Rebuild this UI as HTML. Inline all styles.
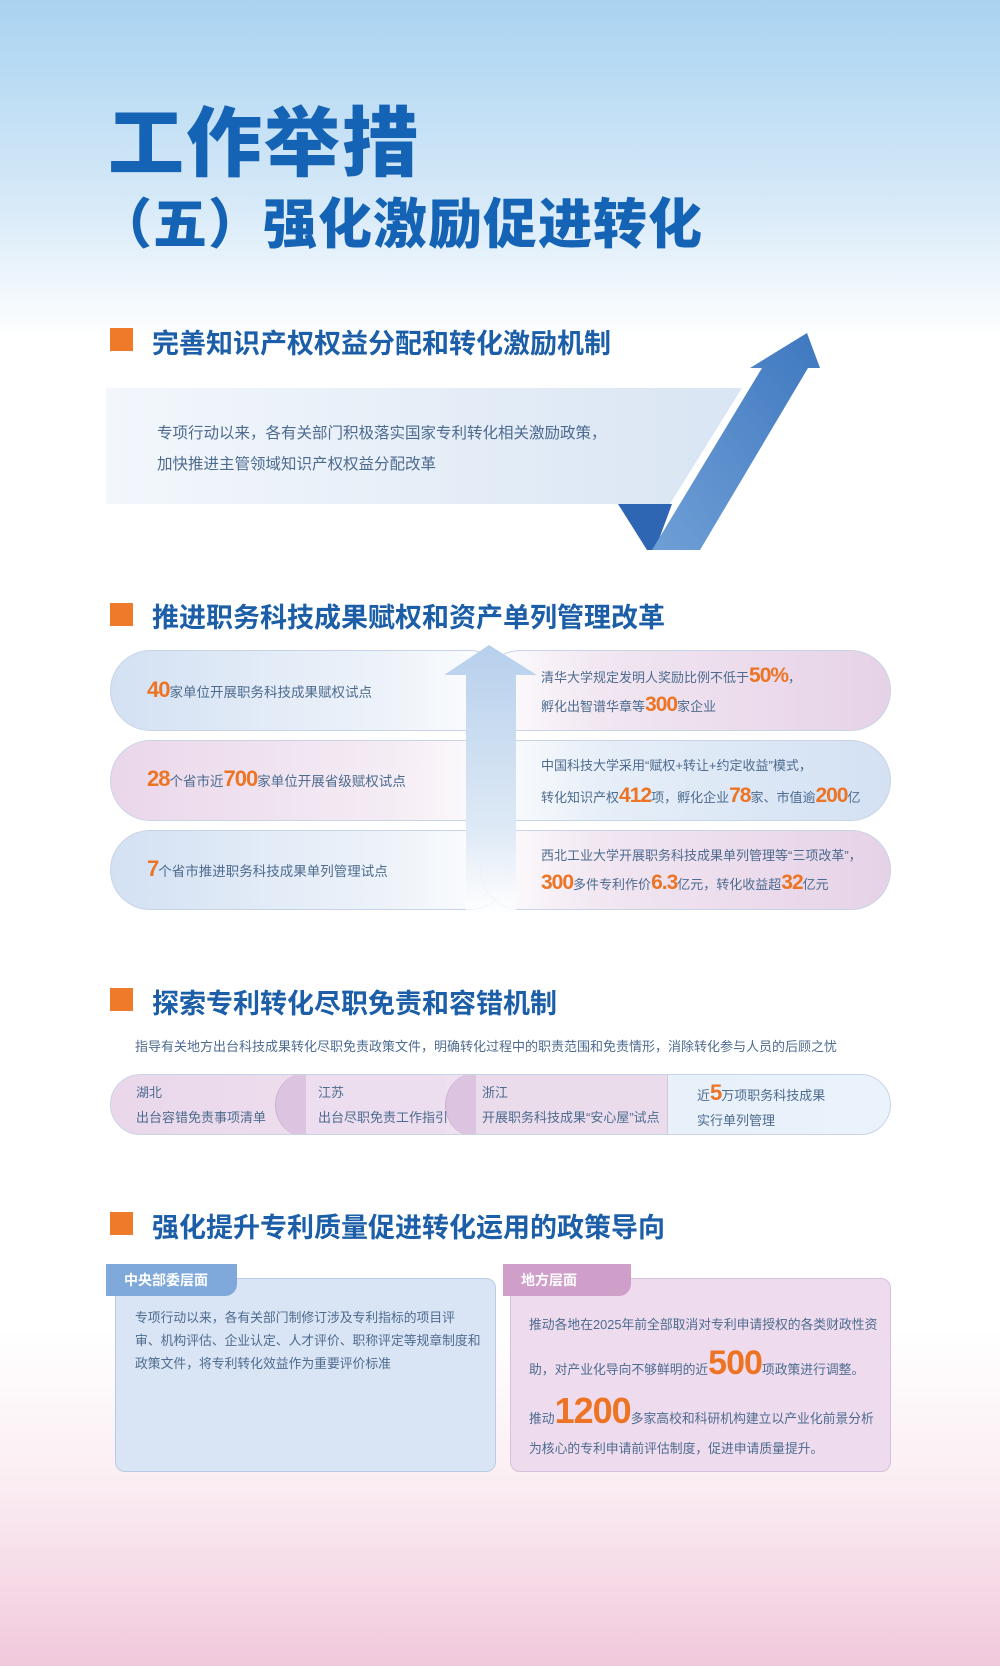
<!DOCTYPE html>
<html><head><meta charset="utf-8">
<style>
*{margin:0;padding:0;box-sizing:border-box}
body{width:1000px;height:1666px;position:relative;overflow:hidden;font-family:"Liberation Sans","Noto Sans CJK SC",sans-serif;
background:linear-gradient(180deg,#a9d3f1 0px,#d6e9f8 200px,#ffffff 340px,#ffffff 1330px,#fbeef3 1480px,#f1c9dc 1666px);}
.a{position:absolute;white-space:nowrap}
.h1{left:108px;top:82px;font-size:76px;font-weight:900;color:#1563b5;letter-spacing:2px}
.h2{left:98px;top:180px;font-size:54px;font-weight:900;color:#1563b5;letter-spacing:1px}
.sq{position:absolute;width:23px;height:23px;background:#ef7b2a}
.sh{position:absolute;font-size:27px;font-weight:700;color:#1c5fa8}
.o{color:#ec7424;font-weight:900;font-size:22px;letter-spacing:-1px}
.pill{position:absolute;border-radius:42px;border:1.5px solid #c9d3e6}
.pb{background:linear-gradient(90deg,#d3e1f3,#eef3fa 70%,rgba(255,255,255,0.6))}
.pp{background:linear-gradient(90deg,#ead7ea,#f4ecf4 70%,rgba(255,255,255,0.6))}
.pbR{background:linear-gradient(90deg,rgba(255,255,255,0.6),#e6eef8 30%,#d3e1f3)}
.ppR{background:linear-gradient(90deg,rgba(255,255,255,0.6),#f1e6f1 30%,#e6d2e7)}
.ptxt{position:absolute;font-size:13.5px;color:#4d6b8f;line-height:28px;white-space:nowrap}
.r .o{font-size:21px}
</style></head><body>
<div class="a h1">工作举措</div>
<div class="a h2">（五）强化激励促进转化</div>

<div class="sq" style="left:110px;top:328px"></div>
<div class="sh" style="left:152px;top:322px">完善知识产权权益分配和转化激励机制</div>

<svg class="a" style="left:0;top:0" width="1000" height="600">
<defs>
<linearGradient id="bd" x1="0" x2="1"><stop offset="0" stop-color="#f3f7fc"/><stop offset="1" stop-color="#d9e5f3"/></linearGradient>
<linearGradient id="ar" x1="0" y1="1" x2="1" y2="0"><stop offset="0" stop-color="#6f9fd6"/><stop offset="1" stop-color="#3f78c0"/></linearGradient>
</defs>
<polygon points="106,388 742,388 670,504 106,504" fill="url(#bd)"/>
<polygon points="618,504 672,504 655,550 647,550" fill="#2f66b3"/>
<polygon points="652,550 700,550 808,368 820,368 807,333 750,368 762,368" fill="url(#ar)"/>
</svg>
<div class="a" style="left:157px;top:418px;font-size:15.5px;color:#4d6b8f;line-height:31px">专项行动以来，各有关部门积极落实国家专利转化相关激励政策，<br>加快推进主管领域知识产权权益分配改革</div>

<div class="sq" style="left:110px;top:603px"></div>
<div class="sh" style="left:152px;top:596px">推进职务科技成果赋权和资产单列管理改革</div>

<div class="pill pb" style="left:110px;top:650px;width:400px;height:81px"></div>
<div class="pill pp" style="left:110px;top:740px;width:400px;height:81px"></div>
<div class="pill pb" style="left:110px;top:830px;width:400px;height:80px"></div>
<div class="pill ppR" style="left:480px;top:650px;width:411px;height:81px"></div>
<div class="pill pbR" style="left:480px;top:740px;width:411px;height:81px"></div>
<div class="pill ppR" style="left:480px;top:830px;width:411px;height:80px"></div>

<svg class="a" style="left:440px;top:640px" width="100" height="280">
<defs><linearGradient id="ua" x1="0" y1="0" x2="0" y2="1"><stop offset="0" stop-color="#b7d0ec"/><stop offset="0.7" stop-color="#dfeaf6"/><stop offset="1" stop-color="#ffffff" stop-opacity="0.8"/></linearGradient></defs>
<polygon points="49,5 97,35 76,35 76,275 26,275 26,35 4,35" fill="url(#ua)"/>
</svg>

<div class="ptxt" style="left:147px;top:676px"><span class="o">40</span>家单位开展职务科技成果赋权试点</div>
<div class="ptxt" style="left:147px;top:765px"><span class="o">28</span>个省市近<span class="o">700</span>家单位开展省级赋权试点</div>
<div class="ptxt" style="left:147px;top:855px"><span class="o">7</span>个省市推进职务科技成果单列管理试点</div>
<div class="ptxt r" style="left:541px;top:662px;line-height:27px;font-size:13px">清华大学规定发明人奖励比例不低于<span class="o">50%</span>，<br>孵化出智谱华章等<span class="o">300</span>家企业</div>
<div class="ptxt r" style="left:541px;top:751px;line-height:30px;font-size:13px">中国科技大学采用“赋权+转让+约定收益”模式，<br>转化知识产权<span class="o">412</span>项，孵化企业<span class="o">78</span>家、市值逾<span class="o">200</span>亿</div>
<div class="ptxt r" style="left:541px;top:842px;line-height:27px;font-size:13px">西北工业大学开展职务科技成果单列管理等“三项改革”，<br><span class="o">300</span>多件专利作价<span class="o">6.3</span>亿元，转化收益超<span class="o">32</span>亿元</div>

<div class="sq" style="left:110px;top:988px"></div>
<div class="sh" style="left:152px;top:982px">探索专利转化尽职免责和容错机制</div>
<div class="a" style="left:135px;top:1036px;font-size:13px;color:#4d6b8f">指导有关地方出台科技成果转化尽职免责政策文件，明确转化过程中的职责范围和免责情形，消除转化参与人员的后顾之忧</div>

<div class="pill" style="left:110px;top:1074px;width:781px;height:61px;border-radius:31px;background:linear-gradient(90deg,#ead8ea,#efe3f0 60%,#e8f0fa 72%,#eaf2fb);overflow:hidden">
  <div style="position:absolute;left:164px;top:-2px;width:60px;height:64px;border-radius:50%;background:#dcc3df;border-left:1.5px solid #c9b3d2"></div>
  <div style="position:absolute;left:195px;top:0;width:140px;height:61px;background:#ecdeee"></div>
  <div style="position:absolute;left:334px;top:-2px;width:60px;height:64px;border-radius:50%;background:#dcc3df;border-left:1.5px solid #c9b3d2"></div>
  <div style="position:absolute;left:365px;top:0;width:192px;height:61px;background:#ebdcec;border-right:1px solid #d5c6dc"></div>
</div>
<div class="ptxt" style="left:136px;top:1080px;line-height:25px;font-size:13px">湖北<br>出台容错免责事项清单</div>
<div class="ptxt" style="left:318px;top:1080px;line-height:25px;font-size:13px">江苏<br>出台尽职免责工作指引</div>
<div class="ptxt" style="left:482px;top:1080px;line-height:25px;font-size:13px">浙江<br>开展职务科技成果“安心屋”试点</div>
<div class="ptxt" style="left:697px;top:1080px;line-height:25px;font-size:13px">近<span class="o">5</span>万项职务科技成果<br>实行单列管理</div>

<div class="sq" style="left:110px;top:1212px"></div>
<div class="sh" style="left:152px;top:1206px">强化提升专利质量促进转化运用的政策导向</div>

<div class="a" style="left:115px;top:1278px;width:381px;height:194px;background:#d9e5f4;border:1.5px solid #b9cbe4;border-radius:10px"></div>
<div class="a" style="left:106px;top:1264px;width:131px;height:32px;background:#7fa9da;border-radius:0 0 12px 0;color:#fff;font-weight:700;font-size:14px;line-height:32px;padding-left:18px">中央部委层面</div>
<div class="a" style="left:135px;top:1306px;font-size:12.8px;color:#4d6b8f;line-height:23px">专项行动以来，各有关部门制修订涉及专利指标的项目评<br>审、机构评估、企业认定、人才评价、职称评定等规章制度和<br>政策文件，将专利转化效益作为重要评价标准</div>

<div class="a" style="left:510px;top:1278px;width:381px;height:194px;background:#eedcee;border:1.5px solid #d6c0dc;border-radius:10px"></div>
<div class="a" style="left:503px;top:1264px;width:128px;height:32px;background:#cf9fca;border-radius:0 0 12px 0;color:#fff;font-weight:700;font-size:14px;line-height:32px;padding-left:18px">地方层面</div>
<div class="a" style="left:529px;top:1306px;font-size:12.8px;color:#4d6b8f;line-height:38px">推动各地在2025年前全部取消对专利申请授权的各类财政性资<br>助，对产业化导向不够鲜明的近<span style="color:#ec7424;font-weight:900;font-size:34px;letter-spacing:-1px">500</span>项政策进行调整。</div>
<div class="a" style="left:529px;top:1396px;font-size:12.8px;color:#4d6b8f;line-height:30px">推动<span style="color:#ec7424;font-weight:900;font-size:36px;letter-spacing:-1px">1200</span>多家高校和科研机构建立以产业化前景分析<br>为核心的专利申请前评估制度，促进申请质量提升。</div>
</body></html>
